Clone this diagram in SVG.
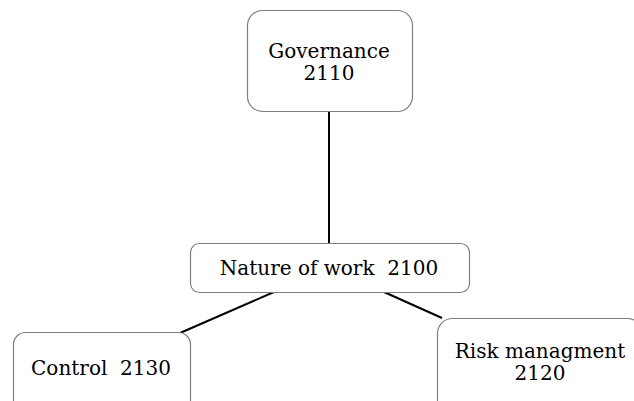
<svg xmlns="http://www.w3.org/2000/svg" width="634" height="401" viewBox="0 0 634 401">
<style>
.box{fill:#ffffff;stroke:#7f7f7f;stroke-width:1.2}
.lbl{font-family:"DejaVu Serif","Liberation Serif",serif;font-size:20px;fill:#000;text-anchor:middle;white-space:pre}
.edge{stroke:#000;stroke-width:2;fill:none}
</style>
<rect width="634" height="401" fill="#ffffff"/>
<g id="connectors">
<line class="edge" x1="329" y1="111" x2="329" y2="243"/>
<line class="edge" x1="274" y1="292" x2="180" y2="333"/>
<line class="edge" x1="384" y1="292" x2="442" y2="318"/>
</g>
<g id="governance">
<rect class="box" x="247.5" y="10.5" width="165" height="101" rx="15"/>
<text class="lbl" x="329" y="58">Governance</text>
<text class="lbl" x="329" y="80">2110</text>
</g>
<g id="nature">
<rect class="box" x="190.5" y="243.5" width="279" height="49" rx="9"/>
<text class="lbl" x="329" y="275" xml:space="preserve">Nature of work  2100</text>
</g>
<g id="control">
<rect class="box" x="13.5" y="332.5" width="177" height="80" rx="12"/>
<text class="lbl" x="101" y="375" xml:space="preserve">Control  2130</text>
</g>
<g id="risk">
<rect class="box" x="437.5" y="318.5" width="205" height="100" rx="15"/>
<text class="lbl" x="540" y="358">Risk managment</text>
<text class="lbl" x="540" y="380">2120</text>
</g>
</svg>
